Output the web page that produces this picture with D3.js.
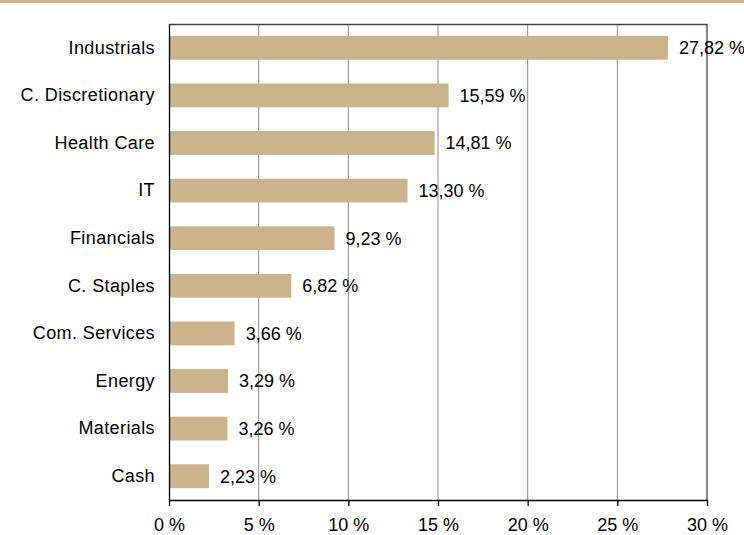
<!DOCTYPE html>
<html>
<head>
<meta charset="utf-8">
<script src="https://cdnjs.cloudflare.com/ajax/libs/d3/7.8.5/d3.min.js"></script>
<style>
  body { margin: 0; background: #fff; }
  text { font-family: "Liberation Sans", Arial, sans-serif; fill: #000; }
</style>
</head>
<body>
<div id="chart"></div>
<script>
var sectors = ["Industrials", "C. Discretionary", "Health Care", "IT", "Financials",
  "C. Staples", "Com. Services", "Energy", "Materials", "Cash"];
var weights = [27.82, 15.59, 14.81, 13.30, 9.23, 6.82, 3.66, 3.29, 3.26, 2.23];
var xTicks = [0, 5, 10, 15, 20, 25, 30];

var svgWidth = 744;
var svgHeight = 535;
var margin = { top: 24, right: 37, bottom: 35, left: 169 };
var width = svgWidth - margin.left - margin.right;
var height = svgHeight - margin.top - margin.bottom;

var svg = d3.select("#chart")
  .append("svg")
  .attr("width", svgWidth)
  .attr("height", svgHeight);

// tan rule at the top (title bar edge)
svg.append("rect")
  .attr("x", 0).attr("y", 0)
  .attr("width", svgWidth).attr("height", 3)
  .attr("fill", "#CBB38B");

var chartGroup = svg.append("g")
  .attr("transform", `translate(${margin.left}, ${margin.top})`);

var data = sectors.map((s, i) => ({ sector: s, value: weights[i] }));

var xScale = d3.scaleLinear().domain([0, 30]).range([0, width]);
var yScale = d3.scaleBand().domain(sectors).range([0, height]).paddingInner(0.5).paddingOuter(0.25);

// gridlines
chartGroup.selectAll(".grid")
  .data(xTicks.slice(1, -1))
  .enter().append("line")
  .attr("x1", d => xScale(d)).attr("x2", d => xScale(d))
  .attr("y1", 0).attr("y2", height)
  .attr("stroke", "#8c8c8c")
  .attr("stroke-width", 1);

// frame top & right
chartGroup.append("path")
  .attr("d", `M0,0.5H${width}V${height}`)
  .attr("fill", "none")
  .attr("stroke", "#444")
  .attr("stroke-width", 1.3);

// bars
chartGroup.selectAll(".bar")
  .data(data)
  .enter().append("rect")
  .attr("x", 0)
  .attr("y", d => yScale(d.sector))
  .attr("width", d => xScale(d.value))
  .attr("height", yScale.bandwidth())
  .attr("fill", "#CBB38B");

// value labels
chartGroup.selectAll(".val")
  .data(data)
  .enter().append("text")
  .attr("x", d => xScale(d.value) + 11)
  .attr("y", d => yScale(d.sector) + yScale.bandwidth() / 2)
  .attr("dy", "0.36em")
  .attr("font-size", 18)
  .text(d => d.value.toFixed(2).replace(".", ",") + " %");

// axes
var bottomAxis = d3.axisBottom(xScale)
  .tickValues(xTicks)
  .tickSize(6)
  .tickSizeOuter(0)
  .tickFormat(d => d + " %");

var xAxis = chartGroup.append("g")
  .attr("transform", `translate(0, ${height})`)
  .call(bottomAxis);
xAxis.select(".domain").attr("stroke", "#000").attr("stroke-width", 1.3);
xAxis.selectAll(".tick line").attr("stroke", "#000").attr("stroke-width", 1.3);
xAxis.selectAll(".tick text")
  .attr("y", 18)
  .attr("font-size", 18)
  .attr("font-family", "Liberation Sans, Arial, sans-serif")
  .attr("fill", "#000");

var leftAxis = d3.axisLeft(yScale).tickSize(0).tickPadding(14);
var yAxis = chartGroup.append("g").call(leftAxis);
yAxis.select(".domain").attr("stroke", "#000").attr("stroke-width", 1.3);
yAxis.selectAll(".tick text")
  .attr("font-size", 18)
  .attr("letter-spacing", 0.4)
  .attr("font-family", "Liberation Sans, Arial, sans-serif")
  .attr("fill", "#000");
</script>
</body>
</html>
